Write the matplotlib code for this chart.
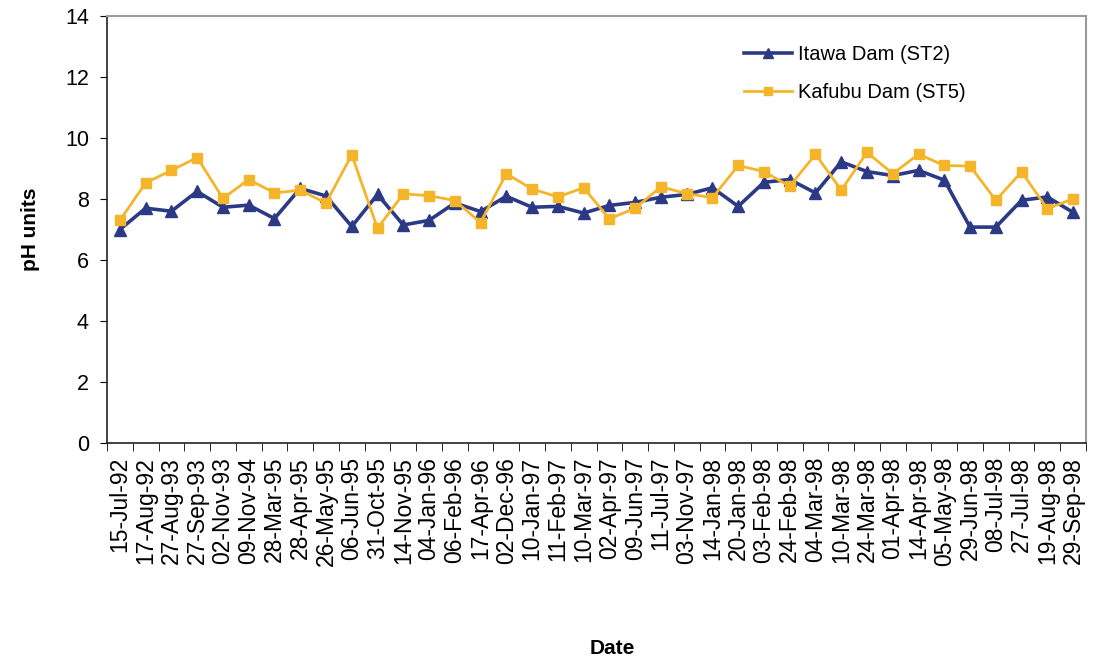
import matplotlib
matplotlib.use("Agg")
import matplotlib.pyplot as plt

plt.rcParams['font.family'] = ['Liberation Sans', 'DejaVu Sans']

# sampling dates
dates = ['15-Jul-92', '17-Aug-92', '27-Aug-93', '27-Sep-93', '02-Nov-93', '09-Nov-94',
         '28-Mar-95', '28-Apr-95', '26-May-95', '06-Jun-95', '31-Oct-95', '14-Nov-95',
         '04-Jan-96', '06-Feb-96', '17-Apr-96', '02-Dec-96', '10-Jan-97', '11-Feb-97',
         '10-Mar-97', '02-Apr-97', '09-Jun-97', '11-Jul-97', '03-Nov-97', '14-Jan-98',
         '20-Jan-98', '03-Feb-98', '24-Feb-98', '04-Mar-98', '10-Mar-98', '24-Mar-98',
         '01-Apr-98', '14-Apr-98', '05-May-98', '29-Jun-98', '08-Jul-98', '27-Jul-98',
         '19-Aug-98', '29-Sep-98']

# pH values
itawa = [7.0, 7.7, 7.6, 8.25, 7.73, 7.8, 7.36, 8.35, 8.1, 7.1, 8.15, 7.15,
         7.3, 7.87, 7.59, 8.09, 7.73, 7.76, 7.54, 7.79, 7.89, 8.06, 8.15, 8.37,
         7.76, 8.55, 8.64, 8.2, 9.22, 8.9, 8.77, 8.94, 8.62, 7.08, 7.08, 7.96,
         8.07, 7.56]
kafubu = [7.3, 8.53, 8.94, 9.36, 8.02, 8.64, 8.2, 8.29, 7.87, 9.45, 7.04, 8.17,
          8.11, 7.95, 7.23, 8.83, 8.33, 8.07, 8.37, 7.35, 7.7, 8.4, 8.18, 8.04,
          9.1, 8.9, 8.42, 9.47, 8.29, 9.53, 8.83, 9.47, 9.1, 9.08, 7.96, 8.89,
          7.68, 8.01]

navy = '#2c3a86'
gold = '#f5b52a'

fig = plt.figure(figsize=(10.93, 6.61), dpi=100)
ax = fig.add_axes([0.0979, 0.3298, 0.8957, 0.6459])

x = range(len(dates))
ax.plot(x, itawa, color=navy, lw=2.6, marker='^', ms=8, label='Itawa Dam (ST2)', zorder=3)
ax.plot(x, kafubu, color=gold, lw=2.0, marker='s', ms=7, label='Kafubu Dam (ST5)', zorder=4)

ax.set_xlim(-0.5, len(dates) - 0.5)
ax.set_ylim(0, 14)
ax.set_yticks(range(0, 15, 2))
ax.set_xticks(list(x))
ax.set_xticklabels(dates, rotation=90, fontsize=16.5)
ax.tick_params(axis='y', labelsize=15.5, direction='out', length=5, pad=8)
ax.tick_params(axis='x', length=0, pad=10)
# category boundary ticks
ax.set_xticks([i + 0.5 for i in range(-1, len(dates))], minor=True)
ax.tick_params(axis='x', which='minor', direction='out', length=6)

for s in ['top', 'right']:
    ax.spines[s].set_color('#9a9a9a')
    ax.spines[s].set_linewidth(1.5)
for s in ['left', 'bottom']:
    ax.spines[s].set_color('#222222')
    ax.spines[s].set_linewidth(1.2)

ax.set_ylabel('pH units', fontsize=15, fontweight='bold', labelpad=18)
ax.set_xlabel('Date', fontsize=15, fontweight='bold')
ax.xaxis.set_label_coords(0.516, -0.46)

ax.legend(loc='upper left', bbox_to_anchor=(0.632, 0.975), frameon=False,
          fontsize=14.5, handlelength=2.4, handletextpad=0.3, labelspacing=0.95,
          markerscale=0.9)

fig.savefig('out.png', dpi=100)
